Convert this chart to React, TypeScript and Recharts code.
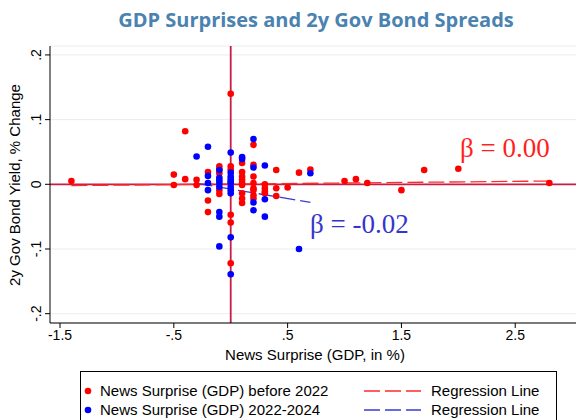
import { ScatterChart, Scatter, XAxis, YAxis, CartesianGrid, ReferenceLine } from "recharts";

const X_TICKS = [-1.5, -0.5, 0.5, 1.5, 2.5];
const Y_TICKS = [-0.2, -0.1, 0, 0.1, 0.2];
const X_DOMAIN = [-1.588, 3.034];
const Y_DOMAIN = [-0.2144, 0.2138];

// [GDP surprise, 2y yield change]
const BEFORE_2022 = [
  [-1.4, 0.005],
  [-0.5, 0.015], [-0.5, -0.001],
  [-0.4, 0.082], [-0.4, 0.008],
  [-0.3, 0.007], [-0.3, -0.001],
  [-0.2, 0.019], [-0.2, -0.025], [-0.2, -0.043],
  [-0.1, 0.028], [-0.1, 0.023], [-0.1, 0.017], [-0.1, -0.009], [-0.1, -0.015],
  [0, 0.14], [0, 0.028], [0, 0.023], [0, -0.047], [0, -0.059], [0, -0.122],
  [0.1, 0.033], [0.1, 0.019], [0.1, 0.012], [0.1, 0.007], [0.1, 0.002], [0.1, -0.001],
  [0.1, -0.014], [0.1, -0.022], [0.1, -0.029],
  [0.2, 0.061], [0.2, 0.03], [0.2, 0.012], [0.2, 0.002], [0.2, -0.006], [0.2, -0.009],
  [0.2, -0.017], [0.2, -0.022],
  [0.3, 0.0], [0.3, -0.006], [0.3, -0.011], [0.3, -0.014],
  [0.4, 0.022], [0.4, -0.006], [0.4, -0.018],
  [0.5, -0.005],
  [0.6, 0.018],
  [0.7, 0.023],
  [1.0, 0.005], [1.1, 0.008], [1.2, 0.002], [1.5, -0.009], [1.7, 0.022], [2.0, 0.024], [2.8, 0.002],
];

const FROM_2022 = [
  [-0.3, 0.043],
  [-0.2, 0.058], [-0.2, 0.013], [-0.2, 0.002], [-0.2, -0.009],
  [-0.1, 0.022], [-0.1, 0.01], [-0.1, 0.006], [-0.1, 0.002], [-0.1, -0.004],
  [-0.1, -0.043], [-0.1, -0.05], [-0.1, -0.096],
  [0, 0.049], [0, 0.018], [0, 0.012], [0, 0.008], [0, 0.004], [0, 0.002], [0, -0.004],
  [0, -0.009], [0, -0.014], [0, -0.082], [0, -0.139],
  [0.1, 0.042], [0.1, 0.039],
  [0.2, 0.07], [0.2, 0.026], [0.2, -0.028], [0.2, -0.04],
  [0.3, 0.029], [0.3, -0.023], [0.3, -0.05],
  [0.6, -0.1],
  [0.7, 0.017],
];

const FIT_BEFORE = [[-1.4, -0.002], [2.8, 0.005]];
const FIT_FROM = [[-0.3, 0.0015], [0.7, -0.028]];

const RED = "#ff0000";
const BLUE = "#0000ff";
const ZERO_LINE = "#c81e46";
const FONT = "Liberation Sans, Arial, sans-serif";

const toPts = (rows: number[][]) => rows.map(([x, y]) => ({ x, y }));

// Stata style: drop the leading zero
const fmt = (v: number) => String(v).replace(/^(-?)0\./, "$1.");

function YTick({ x, y, payload }: any) {
  const tx = x - 2;
  return (
    <text x={tx} y={y} transform={`rotate(-90 ${tx} ${y})`} textAnchor="middle"
      fontFamily={FONT} fontSize={14} fill="#000">
      {fmt(payload.value)}
    </text>
  );
}

const dot = (color: string) => (p: any) => <circle cx={p.cx} cy={p.cy} r={3.3} fill={color} />;

export default function App() {
  return (
    <div style={{ position: "absolute", left: 0, top: 0, width: 577, height: 420, background: "#fff", overflow: "hidden" }}>
      <ScatterChart width={577} height={420} margin={{ top: 46, right: 1, bottom: 67, left: 0 }}>
        <CartesianGrid vertical={false} stroke="#e6eef0" />
        <XAxis type="number" dataKey="x" domain={X_DOMAIN} ticks={X_TICKS} allowDataOverflow
          tickFormatter={fmt} stroke="#000" tickSize={5} height={30}
          tick={{ fontSize: 14, fill: "#000", fontFamily: FONT }} />
        <YAxis type="number" dataKey="y" domain={Y_DOMAIN} ticks={Y_TICKS} allowDataOverflow
          stroke="#000" tickSize={5} width={50} tick={<YTick />} />
        <ReferenceLine y={0} stroke={ZERO_LINE} strokeWidth={1.8} />
        <ReferenceLine x={0} stroke={ZERO_LINE} strokeWidth={1.8} />
        <Scatter data={toPts(BEFORE_2022)} shape={dot(RED)} isAnimationActive={false} />
        <Scatter data={toPts(FROM_2022)} shape={dot(BLUE)} isAnimationActive={false} />
        <ReferenceLine segment={toPts(FIT_BEFORE)} stroke="#ff2a2a" strokeWidth={1.3} strokeDasharray="16 5" />
        <ReferenceLine segment={toPts(FIT_FROM)} stroke="#3a3ad6" strokeWidth={1.3} strokeDasharray="16 5" />
      </ScatterChart>
      <svg width={577} height={420} style={{ position: "absolute", left: 0, top: 0, pointerEvents: "none" }}>
        <text x={316} y={27} textAnchor="middle" fontFamily="Open Sans, sans-serif" fontWeight={700}
          fontSize={20} fill="#4a82b0">GDP Surprises and 2y Gov Bond Spreads</text>
        <text x={315} y={360} textAnchor="middle" fontFamily={FONT} fontSize={15} fill="#000">
          News Surprise (GDP, in %)
        </text>
        <text x={20} y={185} transform="rotate(-90 20 185)" textAnchor="middle" fontFamily={FONT}
          fontSize={15} fill="#000">2y Gov Bond Yield, % Change</text>
        <text x={460} y={157} fontFamily="Liberation Serif, serif" fontSize={27} fill="#ff1f1f">β = 0.00</text>
        <text x={310} y={233} fontFamily="Liberation Serif, serif" fontSize={27} fill="#3535cc">β = -0.02</text>
        <rect x={80.5} y={371.5} width={476} height={70} fill="#fff" stroke="#000" />
        <circle cx={88} cy={391} r={3.3} fill={RED} />
        <text x={100} y={396} fontFamily={FONT} fontSize={15} fill="#000">News Surprise (GDP) before 2022</text>
        <line x1={364} x2={421} y1={391} y2={391} stroke="#ff2a2a" strokeWidth={1.3} strokeDasharray="16 5" />
        <text x={431} y={396} fontFamily={FONT} fontSize={15} fill="#000">Regression Line</text>
        <circle cx={88} cy={410} r={3.3} fill={BLUE} />
        <text x={100} y={415} fontFamily={FONT} fontSize={15} fill="#000">News Surprise (GDP) 2022-2024</text>
        <line x1={364} x2={421} y1={410} y2={410} stroke="#3a3ad6" strokeWidth={1.3} strokeDasharray="16 5" />
        <text x={431} y={415} fontFamily={FONT} fontSize={15} fill="#000">Regression Line</text>
      </svg>
    </div>
  );
}
